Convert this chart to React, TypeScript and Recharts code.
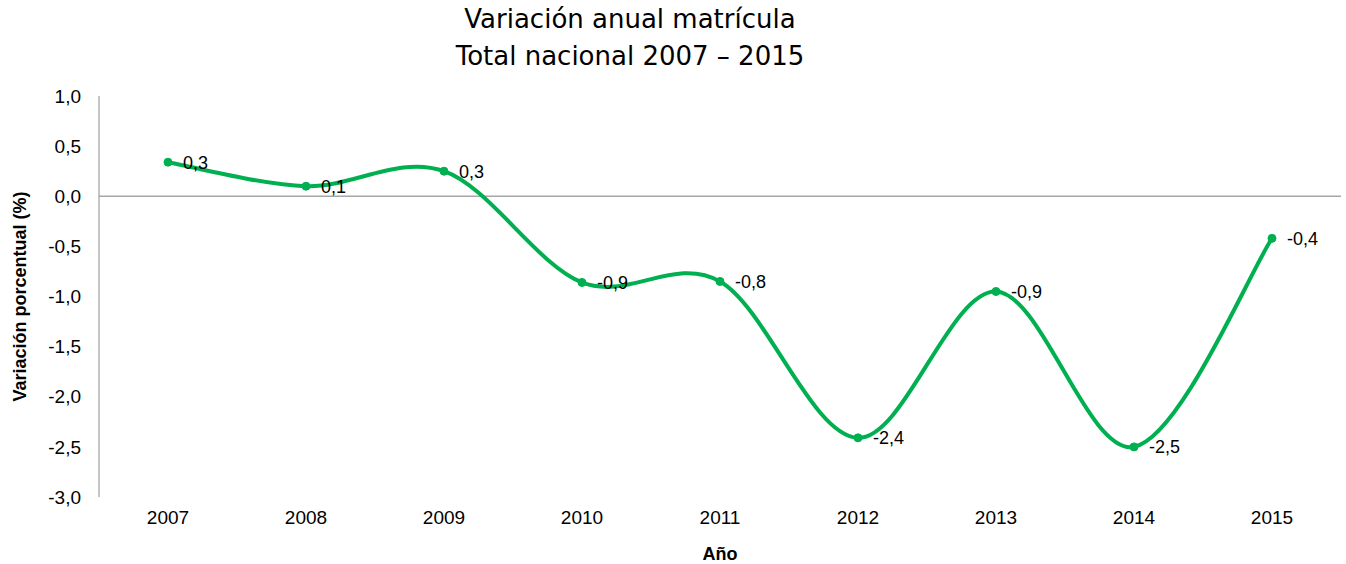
import { LineChart, Line, XAxis, YAxis, ReferenceLine, LabelList } from "recharts";

const years = ["2007", "2008", "2009", "2010", "2011", "2012", "2013", "2014", "2015"];
const variation = [0.34, 0.1, 0.25, -0.86, -0.85, -2.41, -0.95, -2.5, -0.42];
const yTicks = [1, 0.5, 0, -0.5, -1, -1.5, -2, -2.5, -3];

const data = years.map((year, i) => ({ year, value: variation[i] }));

const GREEN = "#00B050";
const AXIS_GREY = "#A6A6A6";
const FONT = "'Liberation Sans', Arial, sans-serif";
const TITLE_FONT = "'DejaVu Sans', Tahoma, sans-serif";

const fmt = (v: number) => v.toFixed(1).replace(".", ",");

// Excel-style smoothing (Catmull-Rom as cubic beziers, tension 1/6)
const excelSmooth = (context: any) => {
  let pts: [number, number][] = [];
  return {
    areaStart() {},
    areaEnd() {},
    lineStart() {
      pts = [];
    },
    lineEnd() {
      if (!pts.length) return;
      context.moveTo(pts[0][0], pts[0][1]);
      for (let i = 0; i < pts.length - 1; i++) {
        const p0 = pts[Math.max(0, i - 1)];
        const p1 = pts[i];
        const p2 = pts[i + 1];
        const p3 = pts[Math.min(pts.length - 1, i + 2)];
        context.bezierCurveTo(
          p1[0] + (p2[0] - p0[0]) / 6,
          p1[1] + (p2[1] - p0[1]) / 6,
          p2[0] - (p3[0] - p1[0]) / 6,
          p2[1] - (p3[1] - p1[1]) / 6,
          p2[0],
          p2[1]
        );
      }
    },
    point(x: number, y: number) {
      pts.push([x, y]);
    },
  };
};

export default function App() {
  return (
    <div style={{ position: "absolute", left: 0, top: 0, width: 1346, height: 564, background: "#fff", fontFamily: FONT }}>
      <div
        style={{
          position: "absolute",
          left: 0,
          top: 1,
          width: 1260,
          textAlign: "center",
          fontFamily: TITLE_FONT,
          fontSize: 26,
          lineHeight: "37px",
          color: "#000",
        }}
      >
        Variación anual matrícula
        <br />
        Total nacional 2007 – 2015
      </div>
      <LineChart width={1346} height={564} data={data} margin={{ top: 96, right: 5, bottom: 0, left: 0 }}>
        <XAxis
          dataKey="year"
          axisLine={false}
          tickLine={false}
          padding={{ left: 69, right: 69 }}
          tick={{ fill: "#000", fontSize: 19, fontFamily: FONT }}
          tickMargin={8}
          height={67}
          label={{ value: "Año", position: "insideBottom", offset: 4, style: { fontWeight: "bold", fontSize: 18, fill: "#000", fontFamily: FONT } }}
        />
        <YAxis
          width={99}
          domain={[-3, 1]}
          ticks={yTicks}
          interval={0}
          tickFormatter={fmt}
          axisLine={{ stroke: AXIS_GREY, strokeWidth: 1.3 }}
          tickLine={false}
          tickMargin={12}
          tick={{ fill: "#000", fontSize: 19, fontFamily: FONT }}
          label={{
            value: "Variación  porcentual (%)",
            angle: -90,
            position: "insideLeft",
            offset: 20,
            style: { textAnchor: "middle", whiteSpace: "pre", fontWeight: "bold", fontSize: 18, fill: "#000", fontFamily: FONT },
          }}
        />
        <ReferenceLine y={0} stroke={AXIS_GREY} strokeWidth={1.3} />
        <Line
          dataKey="value"
          type={excelSmooth as any}
          stroke={GREEN}
          strokeWidth={4}
          dot={{ r: 4, fill: GREEN, stroke: GREEN, strokeWidth: 1 }}
          activeDot={false}
          isAnimationActive={false}
        >
          <LabelList
            dataKey="value"
            position="right"
            offset={15}
            formatter={(v: any) => fmt(Number(v))}
            style={{ fill: "#000", fontSize: 18, fontFamily: FONT }}
          />
        </Line>
      </LineChart>
    </div>
  );
}
